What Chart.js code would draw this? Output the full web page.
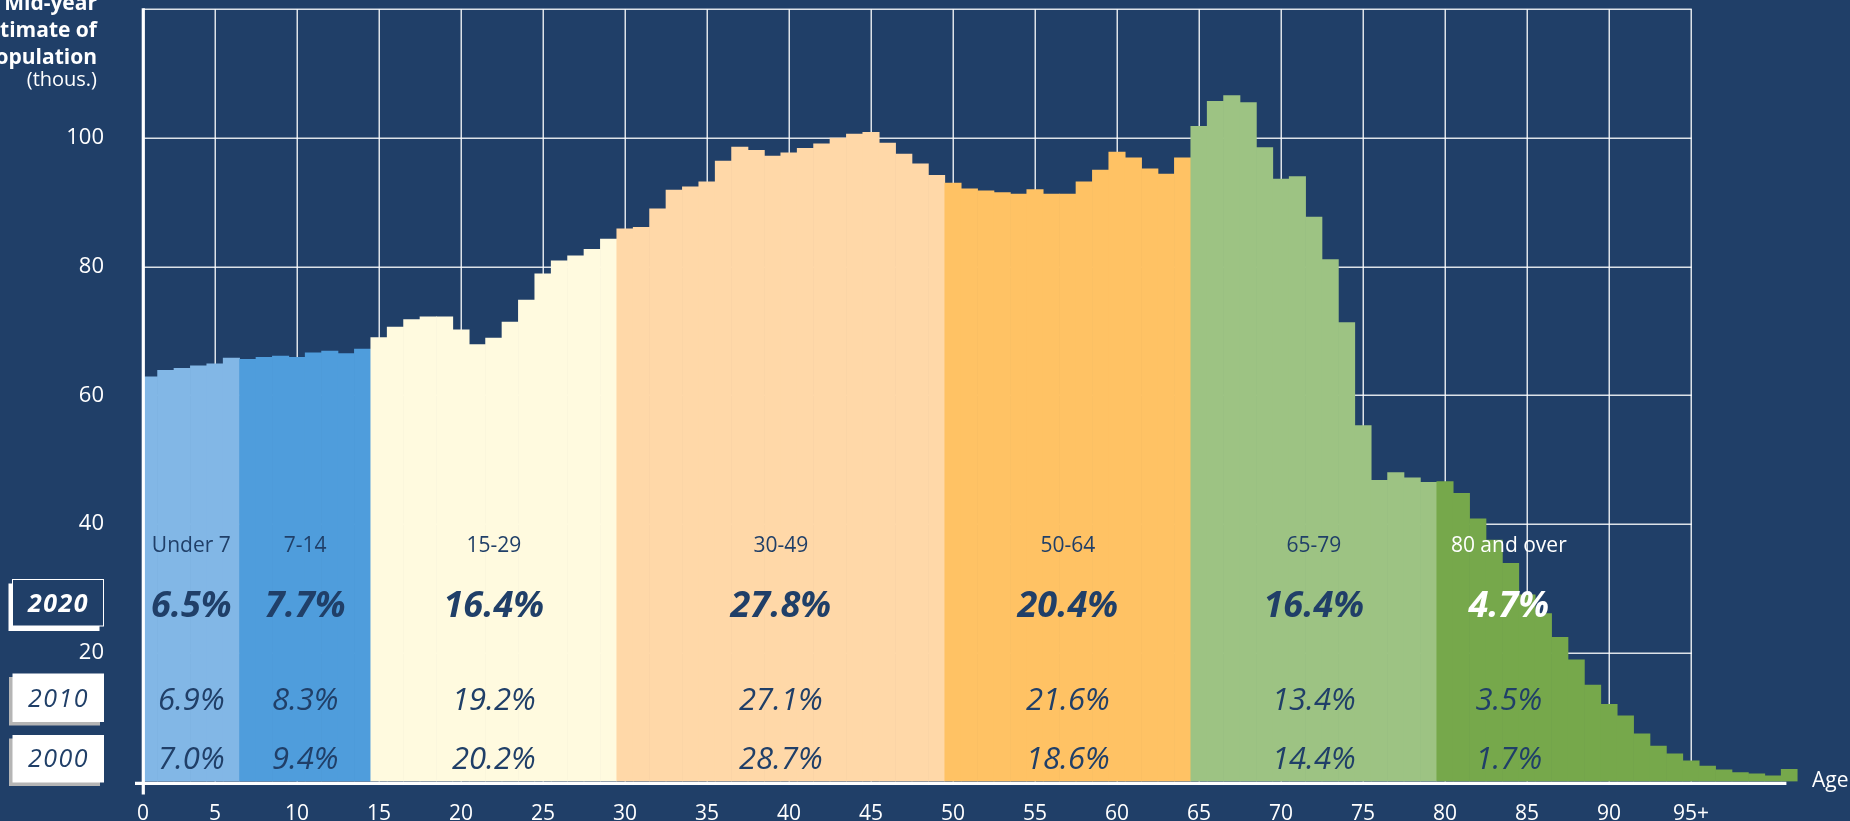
<!DOCTYPE html>
<html>
<head>
<meta charset="utf-8">
<script src="https://cdn.jsdelivr.net/npm/chart.js@4.4.1/dist/chart.umd.min.js"></script>
<style>
html,body{margin:0;padding:0;background:#203F68;overflow:hidden}
canvas{display:block}
</style>
</head>
<body>
<canvas id="c" width="1850" height="821"></canvas>
<script>
// ---- data ----
const ages = [0,1,2,3,4,5,6,7,8,9,10,11,12,13,14,15,16,17,18,19,20,21,22,23,24,25,26,27,28,29,30,31,32,33,34,35,36,37,38,39,40,41,42,43,44,45,46,47,48,49,50,51,52,53,54,55,56,57,58,59,60,61,62,63,64,65,66,67,68,69,70,71,72,73,74,75,76,77,78,79,80,81,82,83,84,85,86,87,88,89,90,91,92,93,94,95,96,97,98,99,100,101];
const population = [
  62.5,62.9,63.9,64.2,64.6,64.9,65.8,
  65.6,65.9,66.1,65.9,66.6,66.9,66.5,67.2,
  69.0,70.6,71.8,72.2,72.2,70.2,67.9,68.9,71.4,74.8,78.9,80.9,81.7,82.7,84.3,
  85.9,86.1,89.0,91.9,92.4,93.2,96.4,98.6,98.1,97.2,97.7,98.4,99.1,100.0,100.6,100.9,99.2,97.5,96.0,94.2,
  93.0,92.1,91.8,91.5,91.3,92.0,91.3,91.3,93.2,95.0,97.8,96.9,95.2,94.4,96.9,
  101.8,105.7,106.6,105.5,98.5,93.6,94.0,87.7,81.1,71.3,55.3,46.8,48.0,47.2,46.5,
  46.6,44.8,40.8,37.5,33.9,29.0,26.1,22.4,18.9,15.0,12.0,10.2,7.4,5.5,4.3,3.2,2.4,1.8,1.4,1.2,0.9,1.9
];
const groupNames = ['Under 7','7-14','15-29','30-49','50-64','65-79','80 and over'];
const groupStartAge = [0,7,15,30,50,65,80];
const groupEndAge = [6,14,29,49,64,79,101];
const share2020 = ['6.5%','7.7%','16.4%','27.8%','20.4%','16.4%','4.7%'];
const share2010 = ['6.9%','8.3%','19.2%','27.1%','21.6%','13.4%','3.5%'];
const share2000 = ['7.0%','9.4%','20.2%','28.7%','18.6%','14.4%','1.7%'];
const legendYears = ['2020','2010','2000'];
const yTickValues = [20,40,60,80,100];
const xTickAges = [0,5,10,15,20,25,30,35,40,45,50,55,60,65,70,75,80,85,90,95];
const xTickLabels = ['0','5','10','15','20','25','30','35','40','45','50','55','60','65','70','75','80','85','90','95+'];
const axisTitleLines = ['Mid-year','estimate of','population','(thous.)'];
const xAxisTitle = 'Age';

// ---- styles ----
const BG = '#203F68';
const NAVY = '#203F68';
const groupColors = ['#82B7E6','#4F9DDC','#FFFADF','#FFD8A8','#FFC264','#9DC383','#76A84B'];
const FONT = "'Open Sans', 'DejaVu Sans', sans-serif";

function groupOf(age){
  for (let g = 0; g < groupStartAge.length; g++) {
    if (age >= groupStartAge[g] && age <= groupEndAge[g]) return g;
  }
  return groupStartAge.length - 1;
}

const bgPlugin = {
  id: 'bg',
  beforeDraw(chart){
    const c = chart.ctx;
    c.save(); c.fillStyle = BG; c.fillRect(0,0,chart.width,chart.height); c.restore();
  }
};

const gridPlugin = {
  id: 'customGrid',
  beforeDatasetsDraw(chart){
    const {ctx, chartArea: ca, scales: {x, y}} = chart;
    const xr = x.getPixelForValue(xTickAges[xTickAges.length-1]);
    ctx.save();
    ctx.strokeStyle = 'rgba(255,255,255,0.85)';
    ctx.lineWidth = 1.5;
    const hv = yTickValues.concat([y.max]);
    hv.forEach(v => {
      const py = Math.round(y.getPixelForValue(v)) + 0.25;
      ctx.beginPath(); ctx.moveTo(ca.left, py); ctx.lineTo(xr + 0.75, py); ctx.stroke();
    });
    xTickAges.slice(1).forEach(a => {
      const px = Math.round(x.getPixelForValue(a)) + 0.25;
      ctx.beginPath(); ctx.moveTo(px, ca.top); ctx.lineTo(px, ca.bottom); ctx.stroke();
    });
    ctx.restore();
  },
  afterDatasetsDraw(chart){
    const {ctx, chartArea: ca, scales: {x}} = chart;
    ctx.save();
    ctx.strokeStyle = '#FFFFFF';
    ctx.lineWidth = 3.2;
    // x axis line
    ctx.beginPath();
    ctx.moveTo(ca.left - 8, ca.bottom + 1.8);
    ctx.lineTo(x.getPixelForValue(ages[ages.length-1]) - 3, ca.bottom + 1.8);
    ctx.stroke();
    // y axis line
    ctx.beginPath();
    ctx.moveTo(ca.left + 0.3, ca.top - 1);
    ctx.lineTo(ca.left + 0.3, ca.bottom + 13);
    ctx.stroke();
    ctx.restore();
  }
};

const textPlugin = {
  id: 'texts',
  afterDraw(chart){
    const {ctx, chartArea: ca, scales: {x, y}} = chart;
    ctx.save();
    // axis title (top-left)
    ctx.fillStyle = '#FFFFFF';
    ctx.textAlign = 'right';
    ctx.textBaseline = 'alphabetic';
    ctx.font = "bold 21px " + FONT;
    ctx.fillText(axisTitleLines[0], 97, 10);
    ctx.fillText(axisTitleLines[1], 97, 37);
    ctx.fillText(axisTitleLines[2], 97, 63.5);
    ctx.font = "20px " + FONT;
    ctx.fillText(axisTitleLines[3], 97, 86);

    // "Age"
    ctx.textAlign = 'left';
    ctx.font = "21px " + FONT;
    ctx.fillText(xAxisTitle, 1812, 787);

    // group labels and shares
    ctx.textAlign = 'center';
    groupNames.forEach((name, g) => {
      const left = Math.max(ca.left, x.getPixelForValue(groupStartAge[g] - 0.5));
      const right = x.getPixelForValue(groupEndAge[g] + 0.5);
      const last = g === groupNames.length - 1;
      const cx = last ? left + 72 : (left + right) / 2;
      ctx.fillStyle = last ? '#FFFFFF' : NAVY;
      ctx.font = "21px " + FONT;
      ctx.fillText(name, cx, 551.5);
      ctx.font = "italic bold 36px " + FONT;
      ctx.fillText(share2020[g], cx, 616.5);
      ctx.fillStyle = NAVY;
      ctx.font = "italic 31px " + FONT;
      ctx.fillText(share2010[g], cx, 710);
      ctx.fillText(share2000[g], cx, 768.5);
    });

    // legend boxes
    ctx.fillStyle = '#FFFFFF';
    ctx.fillRect(8.5, 583.5, 91, 47.5);
    ctx.fillStyle = NAVY;
    ctx.fillRect(12.5, 579.5, 91, 46.5);
    ctx.strokeStyle = '#FFFFFF';
    ctx.lineWidth = 1;
    ctx.strokeRect(12.5, 579.5, 91, 46.5);
    [[673.5, 48.5],[735, 47.5]].forEach(([top, h]) => {
      ctx.fillStyle = '#B5B5B5';
      ctx.fillRect(9, top + 3.5, 91, h);
      ctx.fillStyle = '#FFFFFF';
      ctx.fillRect(12.5, top, 91.5, h);
    });
    ctx.textAlign = 'center';
    try { ctx.letterSpacing = '1.5px'; } catch(e) {}
    ctx.fillStyle = '#FFFFFF';
    ctx.font = "italic bold 25px " + FONT;
    ctx.fillText(legendYears[0], 58.5, 611.5);
    ctx.fillStyle = NAVY;
    ctx.font = "italic 25px " + FONT;
    ctx.fillText(legendYears[1], 58.5, 706.5);
    ctx.fillText(legendYears[2], 58.5, 767);
    ctx.restore();
  }
};

new Chart(document.getElementById('c'), {
  type: 'bar',
  data: {
    datasets: [{
      data: ages.map((a, i) => ({x: a, y: population[i]})),
      backgroundColor: ctx => groupColors[groupOf(ages[ctx.dataIndex])],
      borderWidth: 0,
      barPercentage: 1,
      categoryPercentage: 1
    }]
  },
  options: {
    responsive: false,
    animation: false,
    devicePixelRatio: 1,
    layout: {padding: {left: 0, right: 52.4, top: 9.3, bottom: 0}},
    plugins: {legend: {display: false}, tooltip: {enabled: false}},
    scales: {
      x: {
        type: 'linear',
        bounds: 'data',
        min: 0.61,
        max: 101.5,
        offset: false,
        grid: {display: false, drawTicks: false},
        border: {display: false},
        afterBuildTicks: s => { s.ticks = xTickAges.map(a => ({value: Math.max(a, s.min)})); },
        afterFit: s => { s.height = 39.5; s.paddingLeft = 0; s.paddingRight = 0; s.paddingTop = 0; s.paddingBottom = 0; },
        ticks: {
          autoSkip: false, maxRotation: 0, minRotation: 0,
          color: '#FFFFFF', padding: 20,
          font: {family: FONT, size: 21},
          callback: (v, i) => xTickLabels[i]
        }
      },
      y: {
        bounds: 'data',
        min: 0,
        max: 120,
        grid: {display: false, drawTicks: false},
        border: {display: false},
        afterBuildTicks: s => { s.ticks = yTickValues.map(v => ({value: v})); },
        afterFit: s => { s.width = 143; s.paddingTop = 0; s.paddingBottom = 0; s.paddingLeft = 0; s.paddingRight = 0; },
        ticks: {
          color: '#FFFFFF', padding: 39,
          font: {family: FONT, size: 22},
          callback: v => String(v)
        }
      }
    }
  },
  plugins: [bgPlugin, gridPlugin, textPlugin]
});
</script>
</body>
</html>
